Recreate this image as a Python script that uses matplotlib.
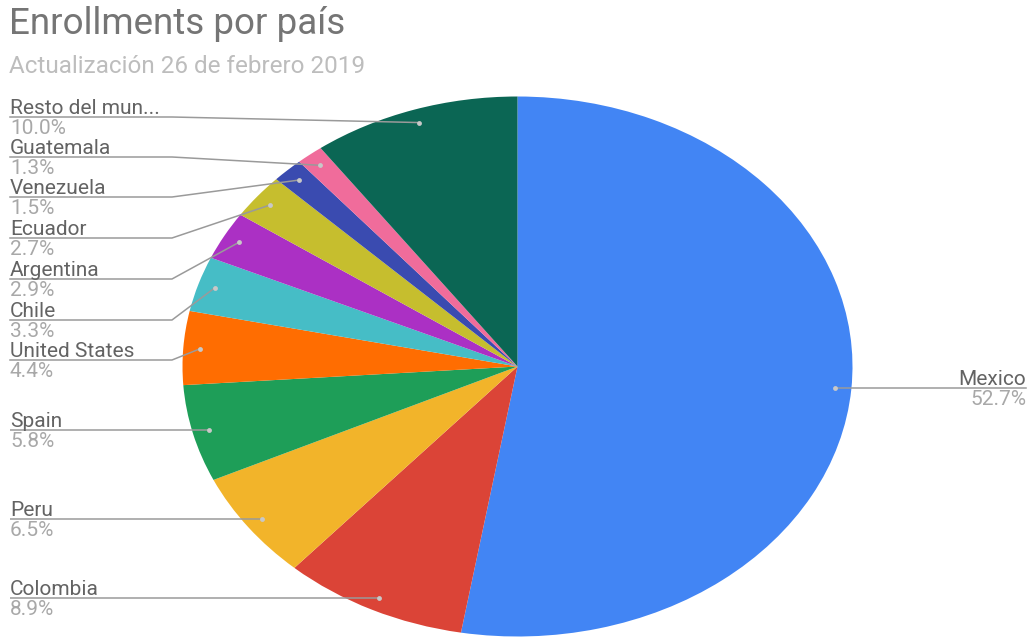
import numpy as np
import matplotlib
matplotlib.use("Agg")
import matplotlib.pyplot as plt

plt.rcParams['font.family'] = ['Roboto', 'DejaVu Sans']

# Enrollment share by country (percent), clockwise from 12 o'clock
countries = ["Mexico", "Colombia", "Peru", "Spain", "United States", "Chile",
             "Argentina", "Ecuador", "Venezuela", "Guatemala", "Resto del mundo"]
shares = [52.7, 8.9, 6.5, 5.8, 4.4, 3.3, 2.9, 2.7, 1.5, 1.3, 10.0]
label_names = ["Mexico", "Colombia", "Peru", "Spain", "United States", "Chile",
               "Argentina", "Ecuador", "Venezuela", "Guatemala", "Resto del mun..."]
colors = ["#4285F4", "#DB4437", "#F2B42A", "#1E9E58", "#FF6D01", "#46BDC6",
          "#AB30C4", "#C6BE2E", "#3A4BB0", "#F06C9B", "#0B6654"]

W, H = 1031, 639
fig = plt.figure(figsize=(W / 100, H / 100), dpi=100)
fig.patch.set_facecolor("white")

# pie axes (stretched horizontally, like the exported chart)
cx, cy, rx, ry = 517.5, 366.5, 335, 270
ax = fig.add_axes([(cx - rx) / W, (H - cy - ry) / H, 2 * rx / W, 2 * ry / H])
wedges, _ = ax.pie(shares, colors=colors, startangle=90, counterclock=False,
                   radius=1, wedgeprops=dict(linewidth=0))
ax.set_aspect("auto")
ax.set_xlim(-1, 1)
ax.set_ylim(-1, 1)
ax.axis("off")
for w in wedges:
    w.set_clip_on(False)

# overlay in pixel coordinates for labels and leader lines
ov = fig.add_axes([0, 0, 1, 1])
ov.set_xlim(0, W)
ov.set_ylim(H, 0)
ov.axis("off")
ov.patch.set_alpha(0)

to_px = ax.transData + ov.transData.inverted()

def anchor(i, r=0.95):
    w = wedges[i]
    th = np.deg2rad((w.theta1 + w.theta2) / 2)
    return to_px.transform((r * np.cos(th), r * np.sin(th)))

ov.text(9, 34, "Enrollments por país", fontsize=26.5, color="#757575",
        ha="left", va="baseline")
ov.text(9, 73, "Actualización 26 de febrero 2019", fontsize=17.5,
        color="#bdbdbd", ha="left", va="baseline")

line_col = "#9a9a9a"
name_col = "#636363"
pct_col = "#a8a8a8"
fs = 15

# left-hand labels: y of the underline for each slice (None = level with the dot)
left_line_y = {10: 117, 9: 157, 8: 197, 7: 238, 6: 279, 5: 320, 4: 360,
               3: None, 2: None, 1: None}
elbow_x = 172
for i, ly in left_line_y.items():
    px, py = anchor(i)
    if ly is None:
        ly = py
        ov.plot([10, px], [ly, ly], color=line_col, lw=1.1, solid_capstyle="butt")
    else:
        ov.plot([10, elbow_x, px], [ly, ly, py], color=line_col, lw=1.1)
    ov.plot(px, py, "o", ms=3.5, color="#c8c8c8", mec="none")
    ov.text(10, ly - 3, label_names[i], fontsize=fs, color=name_col,
            ha="left", va="baseline")
    ov.text(10, ly + 2, f"{shares[i]:.1f}%", fontsize=fs, color=pct_col,
            ha="left", va="top")

# Mexico on the right
px, py = anchor(0)
ov.plot([px, 1026], [py, py], color=line_col, lw=1.1)
ov.plot(px, py, "o", ms=3.5, color="#c8c8c8", mec="none")
ov.text(1026, py - 3, label_names[0], fontsize=fs, color=name_col,
        ha="right", va="baseline")
ov.text(1026, py + 2, f"{shares[0]:.1f}%", fontsize=fs, color=pct_col,
        ha="right", va="top")

fig.savefig("out.png", dpi=100, facecolor="white")
